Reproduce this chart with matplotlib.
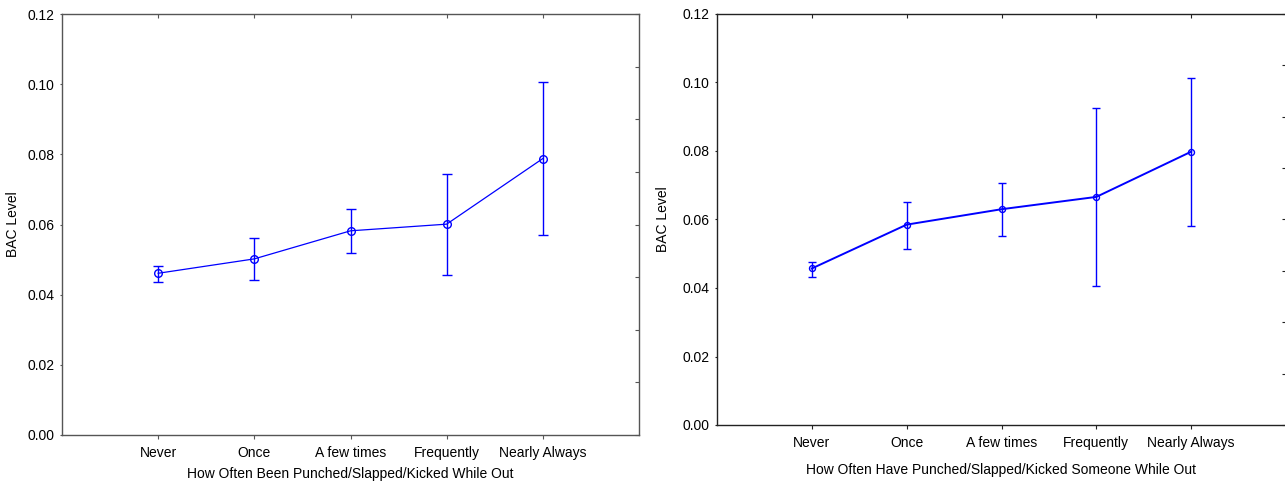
import matplotlib
matplotlib.use("Agg")
import matplotlib.pyplot as plt
import numpy as np

plt.rcParams['font.family'] = ['Liberation Sans', 'DejaVu Sans']

categories = ["Never", "Once", "A few times", "Frequently", "Nearly Always"]

left_mean = [0.0461, 0.0502, 0.0582, 0.0601, 0.0788]
left_low = [0.0436, 0.0442, 0.0518, 0.0457, 0.0571]
left_high = [0.0483, 0.0561, 0.0645, 0.0745, 0.1005]

right_mean = [0.0457, 0.0585, 0.0630, 0.0666, 0.0798]
right_low = [0.0433, 0.0515, 0.0552, 0.0405, 0.0581]
right_high = [0.0477, 0.0652, 0.0706, 0.0927, 0.1012]

yticks = [0.00, 0.02, 0.04, 0.06, 0.08, 0.10, 0.12]
ytick_labels = ["0.00", "0.02", "0.04", "0.06", "0.08", "0.10", "0.12"]

W, H = 1285, 483
fig = plt.figure(figsize=(W / 100, H / 100), dpi=100)

def px_axes(l, r, t, b):
    return fig.add_axes([l / W, 1 - b / H, (r - l) / W, (b - t) / H])

def draw(ax, mean, low, high, xlabel, lw, ms, cap, fs, xpad, lpad, spc):
    x = np.arange(len(categories))
    m = np.array(mean)
    err = [m - np.array(low), np.array(high) - m]
    ax.errorbar(x, m, yerr=err, color='#0000ff', lw=lw, marker='o', ms=ms,
                mfc='none', mec='#0000ff', mew=1.0, capsize=cap, capthick=1.3,
                elinewidth=1.0, zorder=3)
    ax.set_xlim(-1, 5)
    ax.set_ylim(0, 0.12)
    ax.set_xticks(x)
    ax.set_xticklabels(categories, fontsize=fs)
    ax.set_yticks(yticks)
    ax.set_yticklabels(ytick_labels, fontsize=fs)
    ax.tick_params(axis='y', direction='out', length=1.5, width=0.8, color=spc, pad=4)
    ax.tick_params(axis='x', direction='out', length=3, width=0.8, color=spc, pad=xpad)
    ax.set_xlabel(xlabel, fontsize=fs, labelpad=lpad)
    ax.set_ylabel("BAC Level", fontsize=fs)
    for s in ax.spines.values():
        s.set_color(spc)
        s.set_linewidth(1.0)
    # inward ticks on top and right edges
    tx = ax.twiny()
    tx.set_xlim(ax.get_xlim())
    tx.set_xticks(x)
    tx.set_xticklabels([])
    tx.tick_params(direction='in', length=3, width=0.8, color=spc)
    ty = ax.twinx()
    ty.set_ylim(0, 0.12)
    ty.set_yticks(np.arange(0, 0.1201, 0.015))
    ty.set_yticklabels([])
    ty.tick_params(direction='in', length=3, width=0.8, color=spc)
    for t in (tx, ty):
        for s in t.spines.values():
            s.set_visible(False)

ax1 = px_axes(62, 639, 14, 435)
draw(ax1, left_mean, left_low, left_high,
     "How Often Been Punched/Slapped/Kicked While Out", 0.9, 5.5, 3.6,
     10, 5, 5, '#555555')
ax1.yaxis.set_label_coords(-0.073, 0.5)

ax2 = px_axes(717, 1286, 14, 425)
draw(ax2, right_mean, right_low, right_high,
     "How Often Have Punched/Slapped/Kicked Someone While Out",
     1.4, 4.3, 3.2, 10, 5, 9, '#222222')
ax2.yaxis.set_label_coords(-0.083, 0.5)

fig.savefig("out.png", dpi=100)
